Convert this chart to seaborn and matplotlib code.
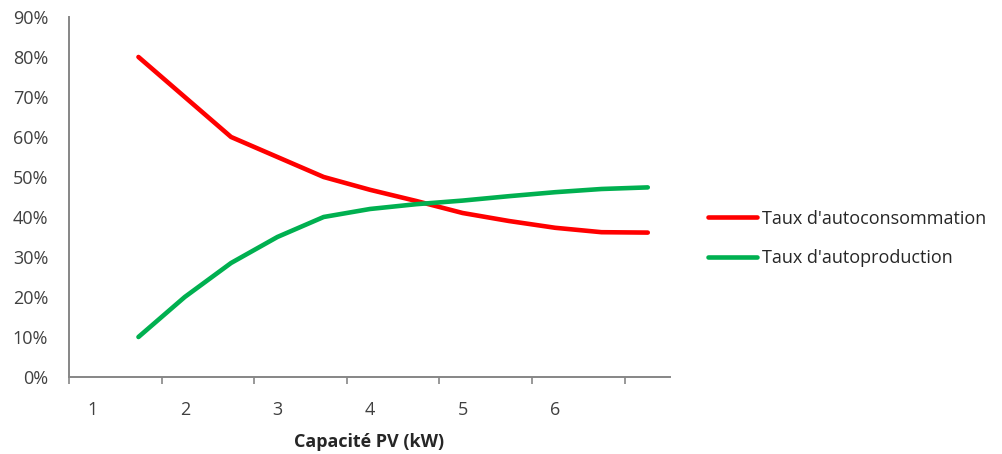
import numpy as np
import pandas as pd
import matplotlib.pyplot as plt
import matplotlib.ticker as mticker
import seaborn as sns

# donnees
capacite = [1.5, 2, 2.5, 3, 3.5, 4, 4.5, 5, 5.5, 6, 6.5, 7]
autoconsommation = [0.80, 0.70, 0.60, 0.55, 0.50, 0.468, 0.44, 0.41, 0.39, 0.373, 0.362, 0.361]
autoproduction = [0.10, 0.20, 0.285, 0.35, 0.40, 0.42, 0.432, 0.441, 0.452, 0.462, 0.47, 0.474]
series = ["Taux d'autoconsommation", "Taux d'autoproduction"]
couleurs = ["#FF0000", "#00B050"]
x_labels = ["1", "2", "3", "4", "5", "6"]

df = pd.DataFrame({
    "Capacité": capacite * 2,
    "Taux": autoconsommation + autoproduction,
    "Série": [series[0]] * len(capacite) + [series[1]] * len(capacite),
})

sns.set_style("white")
plt.rcParams["font.family"] = ["Open Sans", "DejaVu Sans"]

fig = plt.figure(figsize=(10.03, 4.54), dpi=100)
ax = fig.add_axes([0.0688, 0.1696, 0.5992, 0.793])

sns.lineplot(data=df, x="Capacité", y="Taux", hue="Série", palette=couleurs,
             linewidth=3.3, ax=ax, legend=True)
for line in ax.lines:
    line.set_solid_capstyle("round")
    line.set_solid_joinstyle("round")

ax.set_xlim(0.75, 7.24)
ax.set_ylim(0, 0.9)
ax.yaxis.set_major_locator(mticker.MultipleLocator(0.1))
ax.yaxis.set_major_formatter(mticker.PercentFormatter(1.0, decimals=0))

# graduations entre les categories, etiquettes au centre
ax.set_xticks(np.arange(0.75, 7.0, 1.0))
ax.set_xticklabels([])
ax.set_xticks(range(1, 7), minor=True)
ax.set_xticklabels(x_labels, minor=True)
ax.tick_params(axis="x", which="major", direction="out", length=5, width=1.2,
               color="#868686", bottom=True)
ax.tick_params(axis="x", which="minor", length=0, pad=17, labelsize=13, labelcolor="#404040")
ax.tick_params(axis="y", length=0, pad=15, labelsize=13, labelcolor="#404040")

for s in ["top", "right"]:
    ax.spines[s].set_visible(False)
for s in ["left", "bottom"]:
    ax.spines[s].set_color("#868686")
    ax.spines[s].set_linewidth(1.4)

ax.set_xlabel("Capacité PV (kW)", fontsize=13, fontweight="bold", color="#262626", labelpad=10)
ax.set_ylabel("")

ax.get_legend().remove()
handles = ax.lines[:2]
fig.legend(handles, series, loc="center left", bbox_to_anchor=(0.69, 0.475), frameon=False,
           fontsize=13, handlelength=2.7, handletextpad=0.25, labelspacing=1.2,
           labelcolor="#262626")

fig.savefig("out.png", dpi=100)
